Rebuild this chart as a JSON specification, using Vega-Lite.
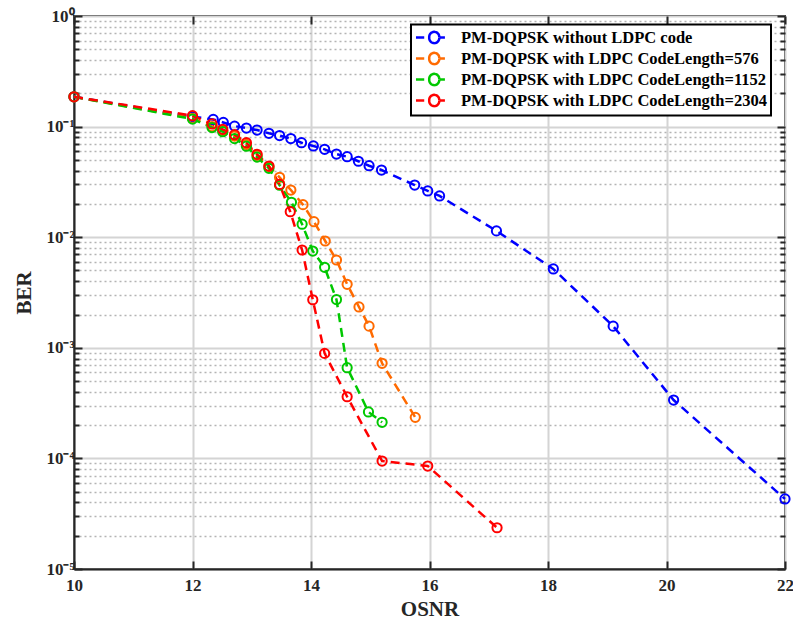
{
  "$schema": "https://vega.github.io/schema/vega-lite/v6.json",
  "width": 711,
  "height": 553,
  "autosize": {"type": "none"},
  "padding": {"left": 74, "top": 16, "right": 8, "bottom": 52},
  "background": "white",
  "config": {
    "view": {"stroke": "#262626", "strokeWidth": 2},
    "axis": {
      "labelFont": "Liberation Serif",
      "labelFontWeight": "bold",
      "labelFontSize": 17,
      "labelColor": "#262626",
      "titleFont": "Liberation Serif",
      "titleFontWeight": "bold",
      "titleFontSize": 21,
      "titleColor": "#262626",
      "domainColor": "#262626",
      "domainWidth": 2,
      "tickColor": "#262626",
      "tickWidth": 2
    },
    "legend": {
      "labelFont": "Liberation Serif",
      "labelFontWeight": "bold",
      "labelFontSize": 16.5,
      "labelColor": "#000000",
      "labelLimit": 0
    }
  },
  "data": {
    "values": [
      {"series": "PM-DQPSK without LDPC code", "osnr": 10, "ber": 0.186},
      {"series": "PM-DQPSK without LDPC code", "osnr": 12.0, "ber": 0.123},
      {"series": "PM-DQPSK without LDPC code", "osnr": 12.35, "ber": 0.116},
      {"series": "PM-DQPSK without LDPC code", "osnr": 12.52, "ber": 0.109},
      {"series": "PM-DQPSK without LDPC code", "osnr": 12.71, "ber": 0.101},
      {"series": "PM-DQPSK without LDPC code", "osnr": 12.91, "ber": 0.097},
      {"series": "PM-DQPSK without LDPC code", "osnr": 13.09, "ber": 0.093},
      {"series": "PM-DQPSK without LDPC code", "osnr": 13.29, "ber": 0.087},
      {"series": "PM-DQPSK without LDPC code", "osnr": 13.47, "ber": 0.083},
      {"series": "PM-DQPSK without LDPC code", "osnr": 13.66, "ber": 0.078},
      {"series": "PM-DQPSK without LDPC code", "osnr": 13.84, "ber": 0.0715},
      {"series": "PM-DQPSK without LDPC code", "osnr": 14.04, "ber": 0.0668},
      {"series": "PM-DQPSK without LDPC code", "osnr": 14.23, "ber": 0.0623},
      {"series": "PM-DQPSK without LDPC code", "osnr": 14.43, "ber": 0.0565},
      {"series": "PM-DQPSK without LDPC code", "osnr": 14.61, "ber": 0.0534},
      {"series": "PM-DQPSK without LDPC code", "osnr": 14.8, "ber": 0.0486},
      {"series": "PM-DQPSK without LDPC code", "osnr": 14.98, "ber": 0.0443},
      {"series": "PM-DQPSK without LDPC code", "osnr": 15.19, "ber": 0.0405},
      {"series": "PM-DQPSK without LDPC code", "osnr": 15.75, "ber": 0.0296},
      {"series": "PM-DQPSK without LDPC code", "osnr": 15.97, "ber": 0.0262},
      {"series": "PM-DQPSK without LDPC code", "osnr": 16.17, "ber": 0.0236},
      {"series": "PM-DQPSK without LDPC code", "osnr": 17.13, "ber": 0.0114},
      {"series": "PM-DQPSK without LDPC code", "osnr": 18.09, "ber": 0.00516},
      {"series": "PM-DQPSK without LDPC code", "osnr": 19.1, "ber": 0.00157},
      {"series": "PM-DQPSK without LDPC code", "osnr": 20.12, "ber": 0.000337},
      {"series": "PM-DQPSK without LDPC code", "osnr": 22.0, "ber": 0.000043},
      {"series": "PM-DQPSK with LDPC CodeLength=576", "osnr": 10, "ber": 0.186},
      {"series": "PM-DQPSK with LDPC CodeLength=576", "osnr": 12.0, "ber": 0.119},
      {"series": "PM-DQPSK with LDPC CodeLength=576", "osnr": 12.33, "ber": 0.1},
      {"series": "PM-DQPSK with LDPC CodeLength=576", "osnr": 12.51, "ber": 0.092},
      {"series": "PM-DQPSK with LDPC CodeLength=576", "osnr": 12.71, "ber": 0.082},
      {"series": "PM-DQPSK with LDPC CodeLength=576", "osnr": 12.91, "ber": 0.069},
      {"series": "PM-DQPSK with LDPC CodeLength=576", "osnr": 13.09, "ber": 0.055},
      {"series": "PM-DQPSK with LDPC CodeLength=576", "osnr": 13.29, "ber": 0.0435},
      {"series": "PM-DQPSK with LDPC CodeLength=576", "osnr": 13.47, "ber": 0.0348},
      {"series": "PM-DQPSK with LDPC CodeLength=576", "osnr": 13.66, "ber": 0.0267},
      {"series": "PM-DQPSK with LDPC CodeLength=576", "osnr": 13.865, "ber": 0.0197},
      {"series": "PM-DQPSK with LDPC CodeLength=576", "osnr": 14.05, "ber": 0.0138},
      {"series": "PM-DQPSK with LDPC CodeLength=576", "osnr": 14.24, "ber": 0.00924},
      {"series": "PM-DQPSK with LDPC CodeLength=576", "osnr": 14.43, "ber": 0.00622},
      {"series": "PM-DQPSK with LDPC CodeLength=576", "osnr": 14.61, "ber": 0.00375},
      {"series": "PM-DQPSK with LDPC CodeLength=576", "osnr": 14.81, "ber": 0.00234},
      {"series": "PM-DQPSK with LDPC CodeLength=576", "osnr": 14.98, "ber": 0.00157},
      {"series": "PM-DQPSK with LDPC CodeLength=576", "osnr": 15.2, "ber": 0.000724},
      {"series": "PM-DQPSK with LDPC CodeLength=576", "osnr": 15.76, "ber": 0.000235},
      {"series": "PM-DQPSK with LDPC CodeLength=1152", "osnr": 10, "ber": 0.186},
      {"series": "PM-DQPSK with LDPC CodeLength=1152", "osnr": 12.0, "ber": 0.117},
      {"series": "PM-DQPSK with LDPC CodeLength=1152", "osnr": 12.33, "ber": 0.098},
      {"series": "PM-DQPSK with LDPC CodeLength=1152", "osnr": 12.51, "ber": 0.09},
      {"series": "PM-DQPSK with LDPC CodeLength=1152", "osnr": 12.71, "ber": 0.078},
      {"series": "PM-DQPSK with LDPC CodeLength=1152", "osnr": 12.91, "ber": 0.0665},
      {"series": "PM-DQPSK with LDPC CodeLength=1152", "osnr": 13.09, "ber": 0.053},
      {"series": "PM-DQPSK with LDPC CodeLength=1152", "osnr": 13.29, "ber": 0.042},
      {"series": "PM-DQPSK with LDPC CodeLength=1152", "osnr": 13.47, "ber": 0.0295},
      {"series": "PM-DQPSK with LDPC CodeLength=1152", "osnr": 13.67, "ber": 0.0207},
      {"series": "PM-DQPSK with LDPC CodeLength=1152", "osnr": 13.85, "ber": 0.0131},
      {"series": "PM-DQPSK with LDPC CodeLength=1152", "osnr": 14.03, "ber": 0.0075},
      {"series": "PM-DQPSK with LDPC CodeLength=1152", "osnr": 14.23, "ber": 0.00534},
      {"series": "PM-DQPSK with LDPC CodeLength=1152", "osnr": 14.43, "ber": 0.00273},
      {"series": "PM-DQPSK with LDPC CodeLength=1152", "osnr": 14.61, "ber": 0.000661},
      {"series": "PM-DQPSK with LDPC CodeLength=1152", "osnr": 14.97, "ber": 0.000263},
      {"series": "PM-DQPSK with LDPC CodeLength=1152", "osnr": 15.2, "ber": 0.000212},
      {"series": "PM-DQPSK with LDPC CodeLength=2304", "osnr": 10, "ber": 0.186},
      {"series": "PM-DQPSK with LDPC CodeLength=2304", "osnr": 12.0, "ber": 0.1255},
      {"series": "PM-DQPSK with LDPC CodeLength=2304", "osnr": 12.33, "ber": 0.1056},
      {"series": "PM-DQPSK with LDPC CodeLength=2304", "osnr": 12.51, "ber": 0.0945},
      {"series": "PM-DQPSK with LDPC CodeLength=2304", "osnr": 12.71, "ber": 0.0845},
      {"series": "PM-DQPSK with LDPC CodeLength=2304", "osnr": 12.91, "ber": 0.0715},
      {"series": "PM-DQPSK with LDPC CodeLength=2304", "osnr": 13.09, "ber": 0.0562},
      {"series": "PM-DQPSK with LDPC CodeLength=2304", "osnr": 13.29, "ber": 0.044},
      {"series": "PM-DQPSK with LDPC CodeLength=2304", "osnr": 13.47, "ber": 0.03},
      {"series": "PM-DQPSK with LDPC CodeLength=2304", "osnr": 13.65, "ber": 0.017},
      {"series": "PM-DQPSK with LDPC CodeLength=2304", "osnr": 13.85, "ber": 0.00766},
      {"series": "PM-DQPSK with LDPC CodeLength=2304", "osnr": 14.03, "ber": 0.00272},
      {"series": "PM-DQPSK with LDPC CodeLength=2304", "osnr": 14.23, "ber": 0.00089},
      {"series": "PM-DQPSK with LDPC CodeLength=2304", "osnr": 14.61, "ber": 0.000361},
      {"series": "PM-DQPSK with LDPC CodeLength=2304", "osnr": 15.2, "ber": 0.0000947},
      {"series": "PM-DQPSK with LDPC CodeLength=2304", "osnr": 15.97, "ber": 0.0000853},
      {"series": "PM-DQPSK with LDPC CodeLength=2304", "osnr": 17.14, "ber": 0.0000236}
    ]
  },
  "layer": [
    {
      "mark": {"type": "line", "strokeDash": [9, 6], "strokeWidth": 2.5},
      "encoding": {
        "x": {
          "field": "osnr", "type": "quantitative",
          "scale": {"domain": [10, 22], "nice": false, "zero": false},
          "axis": {
            "title": "OSNR",
            "values": [10, 12, 14, 16, 18, 20, 22],
            "tickSize": -8,
            "labelPadding": 16,
            "labelFlush": false,
            "titlePadding": 5,
            "grid": true,
            "gridColor": "#d4d4d4",
            "gridWidth": 2
          }
        },
        "y": {
          "field": "ber", "type": "quantitative",
          "scale": {"type": "log", "domain": [0.00001, 1], "nice": false},
          "axis": {
            "title": "BER",
            "values": [0.00001, 0.00002, 0.00003, 0.00004, 0.00005, 0.00006, 0.00007, 0.00008, 0.00009,
                       0.0001, 0.0002, 0.0003, 0.0004, 0.0005, 0.0006, 0.0007, 0.0008, 0.0009,
                       0.001, 0.002, 0.003, 0.004, 0.005, 0.006, 0.007, 0.008, 0.009,
                       0.01, 0.02, 0.03, 0.04, 0.05, 0.06, 0.07, 0.08, 0.09,
                       0.1, 0.2, 0.3, 0.4, 0.5, 0.6, 0.7, 0.8, 0.9, 1],
            "labelExpr": "abs(log(datum.value)/LN10 - round(log(datum.value)/LN10)) < 0.000001 ? ('10' + (round(log(datum.value)/LN10) < 0 ? '⁻' : '') + substring('⁰¹²³⁴⁵', abs(round(log(datum.value)/LN10)), abs(round(log(datum.value)/LN10)) + 1)) : ''",
            "tickSize": {"condition": {"test": "abs(log(datum.value)/LN10 - round(log(datum.value)/LN10)) < 0.000001", "value": -8}, "value": -5},
            "labelPadding": 8,
            "labelFlush": false,
            "titlePadding": 11,
            "grid": true,
            "gridColor": "#b4b4b4",
            "gridWidth": 1.5,
            "gridDash": [2, 3],
            "gridOpacity": {"condition": {"test": "abs(log(datum.value)/LN10 - round(log(datum.value)/LN10)) < 0.000001", "value": 0}, "value": 1}
          }
        },
        "color": {
          "field": "series", "type": "nominal",
          "scale": {
            "domain": ["PM-DQPSK without LDPC code", "PM-DQPSK with LDPC CodeLength=576", "PM-DQPSK with LDPC CodeLength=1152", "PM-DQPSK with LDPC CodeLength=2304"],
            "range": ["#0000ff", "#ff6a00", "#00c800", "#ff0000"]
          },
          "legend": {
            "title": null,
            "orient": "none",
            "legendX": 337,
            "legendY": 8.5,
            "padding": 4,
            "rowPadding": -1,
            "strokeColor": "#000000",
            "fillColor": "white",
            "symbolType": "M-1.07,0H0.03M2.03,0H2.79M2.03,0A0.67,0.67 0 1 1 0.7,0A0.67,0.67 0 1 1 2.03,0",
            "symbolSize": 225,
            "symbolStrokeWidth": 2.5,
            "symbolDash": [1, 0],
            "symbolFillColor": "transparent",
            "labelOffset": 28,
            "encode": {"legend": {"update": {"strokeWidth": {"value": 2}}}}
          }
        }
      }
    },
    {
      "mark": {"type": "point", "filled": false, "size": 85, "strokeWidth": 2, "opacity": 1},
      "encoding": {
        "x": {"field": "osnr", "type": "quantitative", "axis": null},
        "y": {"field": "ber", "type": "quantitative", "axis": null},
        "stroke": {
          "field": "series", "type": "nominal",
          "scale": {
            "domain": ["PM-DQPSK without LDPC code", "PM-DQPSK with LDPC CodeLength=576", "PM-DQPSK with LDPC CodeLength=1152", "PM-DQPSK with LDPC CodeLength=2304"],
            "range": ["#0000ff", "#ff6a00", "#00c800", "#ff0000"]
          },
          "legend": null
        }
      }
    },
    {
      "mark": {"type": "point", "opacity": 0},
      "encoding": {
        "x": {
          "field": "osnr", "type": "quantitative",
          "axis": {"orient": "top", "values": [10, 12, 14, 16, 18, 20, 22], "labels": false, "title": null, "tickSize": -8, "grid": false, "domain": false}
        },
        "y": {
          "field": "ber", "type": "quantitative",
          "axis": {
            "orient": "right",
            "values": [0.00001, 0.00002, 0.00003, 0.00004, 0.00005, 0.00006, 0.00007, 0.00008, 0.00009,
                       0.0001, 0.0002, 0.0003, 0.0004, 0.0005, 0.0006, 0.0007, 0.0008, 0.0009,
                       0.001, 0.002, 0.003, 0.004, 0.005, 0.006, 0.007, 0.008, 0.009,
                       0.01, 0.02, 0.03, 0.04, 0.05, 0.06, 0.07, 0.08, 0.09,
                       0.1, 0.2, 0.3, 0.4, 0.5, 0.6, 0.7, 0.8, 0.9, 1],
            "labels": false, "title": null, "domain": false,
            "grid": true,
            "gridColor": "#d4d4d4",
            "gridWidth": 2,
            "gridOpacity": {"condition": {"test": "abs(log(datum.value)/LN10 - round(log(datum.value)/LN10)) < 0.000001", "value": 1}, "value": 0},
            "tickSize": {"condition": {"test": "abs(log(datum.value)/LN10 - round(log(datum.value)/LN10)) < 0.000001", "value": -8}, "value": -5}
          }
        }
      }
    }
  ],
  "resolve": {"axis": {"x": "independent", "y": "independent"}, "scale": {"stroke": "independent"}}
}
